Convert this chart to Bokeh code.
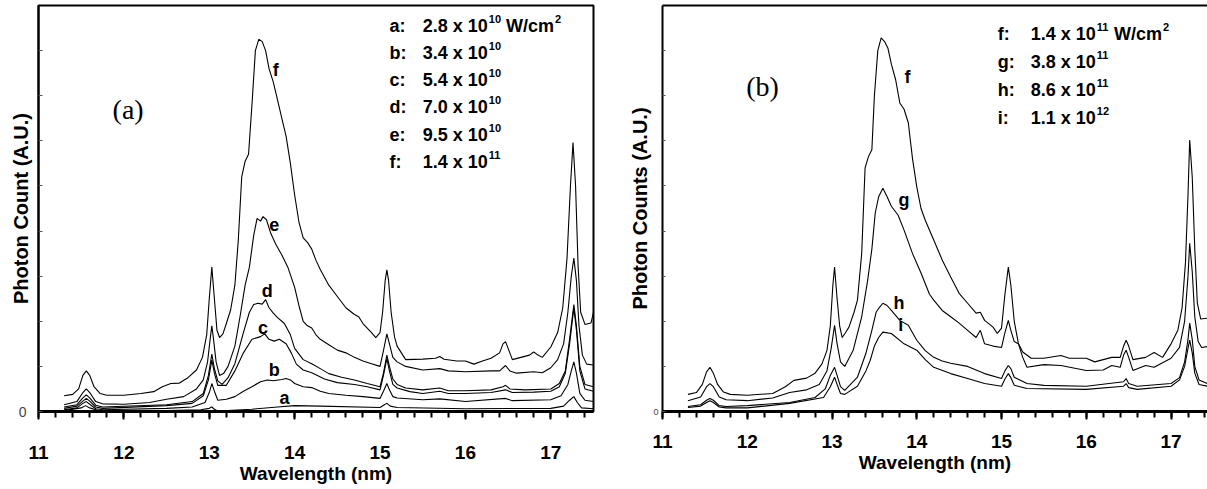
from bokeh.plotting import figure
from bokeh.layouts import row
from bokeh.models import Range1d, LinearAxis, FixedTicker, Label
from bokeh.embed import file_html
from bokeh.resources import INLINE

SANS = "Liberation Sans"
SERIF = "Liberation Serif"

# ---------------- Panel (a): spectra a-f, (wavelength nm, counts A.U.) ----------------
spec_a = [(11.3, 0.02), (11.5, 0.08), (11.55, 0.13), (11.6, 0.08), (11.7, 0.02), (12.5, 0.02),
          (12.9, 0.04), (13.0, 0.07), (13.03, 0.10), (13.06, 0.05), (13.1, 0.01), (13.5, 0.05),
          (13.8, 0.10), (14.0, 0.13), (14.3, 0.12), (15.0, 0.09), (15.05, 0.15), (15.08, 0.18),
          (15.12, 0.12), (15.2, 0.09), (16.0, 0.06), (17.0, 0.07), (17.15, 0.12), (17.22, 0.25),
          (17.27, 0.33), (17.31, 0.20), (17.36, 0.08), (17.5, 0.06)]

spec_b = [(11.3, 0.04), (11.45, 0.08), (11.52, 0.18), (11.56, 0.22), (11.6, 0.16), (11.67, 0.06),
          (11.75, 0.04), (12.5, 0.07), (12.8, 0.10), (12.95, 0.20), (13.0, 0.42), (13.03, 0.62),
          (13.06, 0.45), (13.1, 0.25), (13.2, 0.27), (13.3, 0.33), (13.4, 0.45), (13.5, 0.55),
          (13.6, 0.66), (13.68, 0.70), (13.75, 0.68), (13.85, 0.71), (13.9, 0.73), (13.95, 0.70),
          (14.0, 0.62), (14.1, 0.55), (14.2, 0.53), (14.3, 0.45), (14.4, 0.40), (14.6, 0.36),
          (14.8, 0.33), (15.0, 0.29), (15.04, 0.45), (15.08, 0.62), (15.11, 0.48), (15.15, 0.33),
          (15.2, 0.30), (15.5, 0.26), (15.7, 0.28), (16.0, 0.22), (16.47, 0.29), (16.55, 0.24),
          (17.0, 0.26), (17.12, 0.35), (17.2, 0.60), (17.24, 0.90), (17.27, 1.10), (17.3, 0.85),
          (17.34, 0.40), (17.4, 0.25), (17.5, 0.22)]

spec_c = [(11.3, 0.07), (11.45, 0.12), (11.52, 0.23), (11.56, 0.29), (11.6, 0.23), (11.67, 0.10),
          (11.75, 0.07), (12.5, 0.13), (12.8, 0.18), (12.93, 0.35), (12.99, 0.70), (13.03, 1.14),
          (13.06, 0.85), (13.1, 0.58), (13.2, 0.58), (13.3, 0.90), (13.4, 1.30), (13.5, 1.60),
          (13.6, 1.66), (13.65, 1.72), (13.7, 1.60), (13.76, 1.56), (13.82, 1.60), (13.9, 1.50),
          (13.96, 1.30), (14.02, 1.05), (14.1, 0.92), (14.2, 0.86), (14.35, 0.72), (14.5, 0.64),
          (14.7, 0.60), (14.85, 0.55), (15.0, 0.48), (15.04, 0.80), (15.08, 1.17), (15.11, 0.90),
          (15.15, 0.60), (15.2, 0.52), (15.35, 0.44), (15.5, 0.40), (15.7, 0.45), (15.8, 0.40),
          (16.0, 0.40), (16.3, 0.42), (16.47, 0.48), (16.55, 0.42), (16.8, 0.43), (17.0, 0.45),
          (17.1, 0.55), (17.17, 0.85), (17.22, 1.50), (17.27, 2.30), (17.3, 1.80), (17.34, 0.90),
          (17.4, 0.50), (17.5, 0.45)]

spec_d = [(11.3, 0.10), (11.45, 0.15), (11.52, 0.30), (11.56, 0.37), (11.6, 0.30), (11.67, 0.14),
          (11.75, 0.10), (12.5, 0.15), (12.8, 0.22), (12.93, 0.40), (12.99, 0.80), (13.03, 1.27),
          (13.06, 0.95), (13.1, 0.68), (13.15, 0.60), (13.22, 0.75), (13.3, 1.06), (13.4, 1.75),
          (13.47, 2.20), (13.52, 2.37), (13.57, 2.40), (13.62, 2.38), (13.66, 2.48), (13.7, 2.30),
          (13.75, 2.18), (13.8, 2.08), (13.88, 1.95), (13.95, 1.70), (14.0, 1.40), (14.1, 1.15),
          (14.2, 1.06), (14.3, 0.95), (14.4, 0.84), (14.55, 0.76), (14.7, 0.70), (14.85, 0.62),
          (15.0, 0.55), (15.04, 0.85), (15.08, 1.25), (15.11, 1.00), (15.15, 0.72), (15.2, 0.60),
          (15.3, 0.52), (15.5, 0.48), (15.7, 0.52), (15.8, 0.46), (16.0, 0.46), (16.3, 0.48),
          (16.44, 0.55), (16.47, 0.58), (16.52, 0.50), (16.7, 0.48), (17.0, 0.50), (17.1, 0.62),
          (17.17, 0.90), (17.22, 1.60), (17.27, 2.37), (17.3, 1.90), (17.34, 1.00), (17.4, 0.60),
          (17.5, 0.55)]

spec_e = [(11.3, 0.15), (11.45, 0.22), (11.52, 0.42), (11.56, 0.50), (11.6, 0.42), (11.67, 0.22),
          (11.75, 0.17), (12.0, 0.16), (12.3, 0.20), (12.5, 0.27), (12.7, 0.33), (12.85, 0.50),
          (12.93, 0.70), (12.98, 1.10), (13.01, 1.60), (13.03, 1.90), (13.05, 1.60), (13.08, 1.10),
          (13.12, 0.80), (13.17, 0.85), (13.22, 1.00), (13.3, 1.45), (13.36, 2.10), (13.42, 2.80),
          (13.47, 3.20), (13.52, 3.90), (13.56, 4.28), (13.6, 4.22), (13.63, 4.32), (13.67, 4.25),
          (13.72, 3.95), (13.78, 3.70), (13.85, 3.47), (13.92, 3.20), (14.0, 2.75), (14.05, 2.35),
          (14.1, 2.00), (14.15, 1.90), (14.2, 1.85), (14.25, 1.70), (14.3, 1.60), (14.4, 1.48),
          (14.5, 1.36), (14.6, 1.30), (14.7, 1.20), (14.8, 1.12), (14.9, 1.06), (15.0, 1.00),
          (15.04, 1.35), (15.08, 1.72), (15.11, 1.50), (15.15, 1.20), (15.2, 1.10), (15.3, 1.00),
          (15.5, 0.92), (15.7, 0.95), (15.8, 0.90), (16.0, 0.88), (16.3, 0.90), (16.4, 0.90),
          (16.47, 1.02), (16.52, 0.90), (16.6, 0.85), (16.8, 0.88), (16.9, 0.86), (17.0, 0.97),
          (17.08, 1.15), (17.15, 1.50), (17.2, 2.20), (17.24, 3.00), (17.27, 3.40), (17.3, 2.90),
          (17.33, 1.90), (17.37, 1.25), (17.42, 1.05), (17.5, 1.03)]

spec_f = [(11.3, 0.35), (11.4, 0.38), (11.47, 0.50), (11.52, 0.80), (11.56, 0.90), (11.6, 0.80),
          (11.65, 0.55), (11.72, 0.40), (11.8, 0.36), (12.0, 0.36), (12.2, 0.40), (12.35, 0.44),
          (12.45, 0.55), (12.55, 0.62), (12.65, 0.63), (12.75, 0.75), (12.85, 0.92), (12.92, 1.20),
          (12.97, 1.70), (13.0, 2.50), (13.03, 3.20), (13.06, 2.50), (13.09, 1.80), (13.12, 1.64),
          (13.16, 1.72), (13.2, 1.95), (13.25, 2.25), (13.3, 2.80), (13.34, 3.80), (13.38, 5.20),
          (13.42, 5.55), (13.46, 5.70), (13.5, 6.80), (13.54, 8.00), (13.58, 8.25), (13.62, 8.20),
          (13.66, 8.00), (13.7, 7.60), (13.75, 7.30), (13.8, 6.90), (13.85, 6.50), (13.9, 6.10),
          (13.95, 5.50), (14.0, 4.80), (14.05, 4.20), (14.1, 3.85), (14.15, 3.75), (14.2, 3.60),
          (14.25, 3.35), (14.3, 3.15), (14.4, 2.80), (14.5, 2.55), (14.6, 2.30), (14.7, 2.15),
          (14.75, 2.10), (14.8, 1.95), (14.9, 1.75), (14.95, 1.64), (15.0, 1.75), (15.03, 2.20),
          (15.06, 2.90), (15.08, 3.14), (15.1, 2.90), (15.13, 2.20), (15.17, 1.65), (15.2, 1.45),
          (15.25, 1.30), (15.3, 1.15), (15.5, 1.16), (15.65, 1.18), (15.7, 1.22), (15.75, 1.16),
          (15.9, 1.12), (16.0, 1.12), (16.1, 1.05), (16.2, 1.12), (16.3, 1.18), (16.4, 1.30),
          (16.44, 1.50), (16.47, 1.55), (16.5, 1.40), (16.55, 1.15), (16.65, 1.20), (16.75, 1.25),
          (16.8, 1.32), (16.85, 1.25), (16.9, 1.20), (17.0, 1.43), (17.08, 1.75), (17.14, 2.30),
          (17.19, 3.40), (17.23, 5.00), (17.26, 5.96), (17.29, 5.00), (17.32, 3.20), (17.35, 2.20),
          (17.4, 1.93), (17.47, 1.96), (17.5, 2.20)]

# ---------------- Panel (b): spectra f-i ----------------
spec_fb = [(11.3, 0.38), (11.4, 0.42), (11.47, 0.60), (11.52, 0.88), (11.56, 0.98), (11.6, 0.85),
           (11.65, 0.60), (11.72, 0.43), (11.8, 0.38), (12.0, 0.36), (12.3, 0.40), (12.45, 0.55),
           (12.55, 0.69), (12.7, 0.74), (12.8, 0.85), (12.88, 1.05), (12.94, 1.35), (12.98, 1.90),
           (13.01, 2.80), (13.03, 3.20), (13.06, 2.50), (13.09, 1.90), (13.12, 1.64), (13.16, 1.75),
           (13.2, 1.87), (13.26, 2.20), (13.3, 2.47), (13.35, 3.50), (13.39, 5.40), (13.43, 5.65),
           (13.47, 5.80), (13.5, 7.00), (13.54, 8.00), (13.58, 8.28), (13.62, 8.20), (13.66, 8.05),
           (13.7, 7.70), (13.75, 7.36), (13.8, 6.84), (13.85, 6.70), (13.9, 6.40), (13.95, 5.60),
           (14.0, 4.98), (14.05, 4.50), (14.1, 4.24), (14.2, 3.80), (14.3, 3.36), (14.4, 2.98),
           (14.5, 2.62), (14.6, 2.40), (14.7, 2.18), (14.75, 2.20), (14.8, 2.02), (14.9, 1.87),
           (14.95, 1.73), (15.0, 1.85), (15.04, 2.60), (15.08, 3.20), (15.11, 2.80), (15.15, 2.00),
           (15.2, 1.50), (15.25, 1.32), (15.35, 1.18), (15.5, 1.18), (15.7, 1.24), (15.8, 1.18),
           (16.0, 1.18), (16.1, 1.10), (16.3, 1.20), (16.4, 1.20), (16.44, 1.45), (16.47, 1.58),
           (16.5, 1.45), (16.55, 1.15), (16.7, 1.20), (16.8, 1.31), (16.9, 1.20), (17.0, 1.50),
           (17.08, 1.80), (17.13, 2.30), (17.17, 3.30), (17.2, 4.80), (17.22, 6.02), (17.25, 5.20),
           (17.28, 3.60), (17.31, 2.40), (17.35, 2.05), (17.43, 2.07)]

spec_g = [(11.3, 0.24), (11.45, 0.32), (11.52, 0.55), (11.56, 0.62), (11.6, 0.55), (11.67, 0.32),
          (11.75, 0.26), (12.0, 0.24), (12.3, 0.30), (12.5, 0.42), (12.7, 0.48), (12.85, 0.60),
          (12.94, 0.90), (12.99, 1.40), (13.03, 1.91), (13.06, 1.50), (13.1, 1.10), (13.15, 1.00),
          (13.25, 1.36), (13.35, 2.10), (13.42, 2.90), (13.47, 3.60), (13.51, 4.40), (13.55, 4.76),
          (13.6, 4.95), (13.65, 4.76), (13.7, 4.55), (13.78, 4.35), (13.85, 4.02), (13.95, 3.50),
          (14.05, 3.07), (14.15, 2.60), (14.2, 2.47), (14.3, 2.24), (14.4, 2.10), (14.5, 1.96),
          (14.6, 1.80), (14.7, 1.64), (14.75, 1.80), (14.8, 1.50), (14.9, 1.45), (15.0, 1.42),
          (15.04, 1.75), (15.08, 2.02), (15.11, 1.80), (15.15, 1.55), (15.2, 1.50), (15.25, 1.20),
          (15.3, 0.98), (15.5, 1.04), (15.7, 1.02), (16.0, 0.91), (16.2, 0.92), (16.3, 1.02),
          (16.4, 0.98), (16.44, 1.25), (16.47, 1.36), (16.5, 1.20), (16.55, 0.91), (16.7, 1.02),
          (16.8, 0.98), (17.0, 1.18), (17.1, 1.42), (17.16, 2.00), (17.2, 3.00), (17.22, 3.73),
          (17.25, 3.10), (17.28, 2.10), (17.32, 1.55), (17.36, 1.42), (17.43, 1.44)]

spec_h = [(11.3, 0.11), (11.45, 0.15), (11.52, 0.25), (11.56, 0.29), (11.6, 0.25), (11.67, 0.13),
          (11.75, 0.11), (12.0, 0.13), (12.5, 0.20), (12.8, 0.31), (12.92, 0.50), (12.98, 0.80),
          (13.03, 0.98), (13.06, 0.80), (13.1, 0.55), (13.15, 0.47), (13.3, 0.76), (13.4, 1.29),
          (13.47, 1.80), (13.52, 2.20), (13.56, 2.31), (13.6, 2.40), (13.65, 2.35), (13.7, 2.24),
          (13.8, 2.02), (13.9, 1.91), (14.0, 1.58), (14.1, 1.35), (14.2, 1.20), (14.3, 1.12),
          (14.4, 1.07), (14.6, 1.00), (14.8, 0.84), (15.0, 0.73), (15.04, 0.90), (15.08, 1.02),
          (15.11, 0.95), (15.15, 0.76), (15.3, 0.62), (15.5, 0.58), (16.0, 0.56), (16.44, 0.66),
          (16.47, 0.73), (16.5, 0.62), (16.6, 0.56), (17.0, 0.62), (17.1, 0.75), (17.16, 1.10),
          (17.2, 1.60), (17.22, 1.96), (17.25, 1.60), (17.28, 1.00), (17.33, 0.70), (17.43, 0.62)]

spec_i = [(11.3, 0.09), (11.45, 0.12), (11.52, 0.20), (11.56, 0.24), (11.6, 0.20), (11.67, 0.10),
          (11.75, 0.08), (12.0, 0.08), (12.5, 0.18), (12.9, 0.31), (12.98, 0.55), (13.03, 0.76),
          (13.06, 0.60), (13.1, 0.40), (13.15, 0.38), (13.3, 0.56), (13.4, 0.90), (13.45, 1.13),
          (13.5, 1.45), (13.55, 1.64), (13.6, 1.76), (13.7, 1.73), (13.85, 1.50), (14.0, 1.36),
          (14.1, 1.15), (14.2, 0.98), (14.4, 0.84), (14.6, 0.73), (14.8, 0.62), (15.0, 0.56),
          (15.04, 0.72), (15.08, 0.84), (15.11, 0.75), (15.15, 0.58), (15.3, 0.51), (16.0, 0.49),
          (16.44, 0.56), (16.47, 0.62), (16.5, 0.53), (16.6, 0.49), (17.0, 0.56), (17.1, 0.70),
          (17.16, 1.00), (17.2, 1.40), (17.22, 1.58), (17.25, 1.30), (17.28, 0.85), (17.33, 0.60),
          (17.43, 0.56)]

# legend entries: intensity = mantissa x 10^exponent (W/cm^2)
left_keys = ["a:", "b:", "c:", "d:", "e:", "f:"]
left_mantissa = ["2.8", "3.4", "5.4", "7.0", "9.5", "1.4"]
left_exponent = ["10", "10", "10", "10", "10", "11"]
right_keys = ["f:", "g:", "h:", "i:"]
right_mantissa = ["1.4", "3.8", "8.6", "1.1"]
right_exponent = ["11", "11", "11", "12"]

x_ticks = [11, 12, 13, 14, 15, 16, 17]
x_minor = [round(11 + 0.2 * k, 1) for k in range(33)]
y_ticks = [0, 1, 2, 3, 4, 5, 6, 7, 8]
y_tick_labels = ["0", "", "", "", "", "", "", "", ""]

# advance widths of Arial / Liberation Sans Bold (per 1000 em)
BOLD_W = {".": 278, " ": 278, "x": 556, "W": 944, "/": 278, "c": 556, "m": 889, ":": 333}


def text_w(s, size):
    return sum(BOLD_W.get(ch, 556) for ch in s) * size / 1000.0


def make_panel(width, b_left, b_right, b_bottom, x_end, zero_size, tick_in):
    p = figure(width=width, height=489, x_range=Range1d(11, x_end), y_range=Range1d(0, 9),
               output_backend="svg", toolbar_location=None,
               min_border_left=b_left, min_border_right=b_right,
               min_border_top=5, min_border_bottom=b_bottom)
    p.grid.visible = False
    xa = p.xaxis[0]
    xa.ticker = FixedTicker(ticks=x_ticks, minor_ticks=x_minor)
    xa.axis_line_width = 3
    xa.major_tick_in = 0
    xa.major_tick_out = 8
    xa.minor_tick_in = 0
    xa.minor_tick_out = 6
    xa.major_tick_line_width = 2
    xa.minor_tick_line_width = 2
    xa.major_label_text_font = SANS
    xa.major_label_text_font_style = "bold"
    xa.major_label_text_font_size = "19px"
    xa.major_label_text_color = "black"
    xa.axis_label = "Wavelength (nm)"
    xa.axis_label_text_font = SANS
    xa.axis_label_text_font_style = "bold"
    xa.axis_label_text_font_size = "19px"
    xa.axis_label_text_color = "black"

    ya = p.yaxis[0]
    ya.ticker = FixedTicker(ticks=y_ticks, minor_ticks=[])
    ya.major_label_overrides = {t: lab for t, lab in zip(y_ticks, y_tick_labels)}
    ya.axis_line_width = 2
    ya.major_tick_in = tick_in
    ya.major_tick_out = 0
    ya.major_tick_line_color = "#555555"
    ya.major_tick_line_width = 1
    ya.minor_tick_line_color = None
    ya.major_label_text_font = SANS
    ya.major_label_text_font_size = zero_size
    ya.major_label_text_color = "#444444"
    ya.axis_label_text_font = SANS
    ya.axis_label_text_font_style = "bold"
    ya.axis_label_text_font_size = "20px"
    ya.axis_label_text_color = "black"
    return p


def add_legend(p, keys, mants, exps, x_key, x_val, ys, size=18, sup=11):
    common = dict(text_font=SANS, text_font_style="bold", text_color="black",
                  text_baseline="middle", text_align="left")
    for k, (key, m, e, y) in enumerate(zip(keys, mants, exps, ys)):
        p.add_layout(Label(x=x_key, y=y, text=key, text_font_size=f"{size}px", **common))
        base = f"{m} x 10"
        p.add_layout(Label(x=x_val, y=y, text=base, text_font_size=f"{size}px", **common))
        off = text_w(base, size) + 1
        p.add_layout(Label(x=x_val, y=y, x_offset=off, y_offset=7, text=e,
                           text_font_size=f"{sup}px", **common))
        if k == 0:
            off += text_w(e, sup) + text_w(" ", size)
            p.add_layout(Label(x=x_val, y=y, x_offset=off, text="W/cm",
                               text_font_size=f"{size}px", **common))
            off += text_w("W/cm", size) + 1
            p.add_layout(Label(x=x_val, y=y, x_offset=off, y_offset=7, text="2",
                               text_font_size=f"{sup}px", **common))


def curve_label(p, x, y, t):
    p.add_layout(Label(x=x, y=y, text=t, text_font=SANS, text_font_style="bold",
                       text_font_size="18px", text_align="center", text_baseline="middle",
                       text_color="black"))


def draw(p, spec):
    wl = [w for w, _ in spec]
    cnt = [c for _, c in spec]
    p.line(wl, cnt, line_color="black", line_width=1.1)


# ---- left panel ----
p1 = make_panel(617, 38, 24, 74, 17.5, "14px", 4)
p1.xaxis[0].major_label_standoff = 26
p1.xaxis[0].axis_label_standoff = 1
p1.yaxis[0].major_label_standoff = 12
p1.yaxis[0].axis_label = "Photon Count (A.U.)"
p1.yaxis[0].axis_label_standoff = -16
p1.outline_line_color = "black"
p1.outline_line_width = 2
p1.outline_line_alpha = 1.0

for spec in [spec_a, spec_b, spec_c, spec_d, spec_e, spec_f]:
    draw(p1, spec)

for x, y, t in [(13.78, 7.57, "f"), (13.76, 4.14, "e"), (13.68, 2.67, "d"),
                (13.63, 1.86, "c"), (13.76, 0.92, "b"), (13.88, 0.29, "a")]:
    curve_label(p1, x, y, t)

add_legend(p1, left_keys, left_mantissa, left_exponent, 15.11, 15.50,
           [8.55, 7.95, 7.35, 6.74, 6.13, 5.53])

p1.add_layout(Label(x=12.05, y=6.7, text="(a)", text_font=SERIF, text_font_size="28px",
                    text_align="center", text_baseline="middle", text_color="black"))

# ---- right panel ----
p2 = make_panel(590, 45, 0, 78, 17.43, "9px", 3)
p2.xaxis[0].major_label_standoff = 15
p2.xaxis[0].axis_label_standoff = 1
p2.yaxis[0].major_label_standoff = 4
p2.yaxis[0].axis_label = "Photon Counts (A.U.)"
p2.yaxis[0].axis_label_standoff = -1
p2.outline_line_color = None
top = LinearAxis(ticker=FixedTicker(ticks=[]), axis_line_width=2,
                 major_tick_in=0, major_tick_out=0, minor_tick_in=0, minor_tick_out=0,
                 major_label_text_font_size="0px", major_label_standoff=0)
p2.add_layout(top, "above")

for spec in [spec_fb, spec_g, spec_h, spec_i]:
    draw(p2, spec)

for x, y, t in [(13.89, 7.42, "f"), (13.85, 4.69, "g"), (13.79, 2.4, "h"), (13.81, 1.91, "i")]:
    curve_label(p2, x, y, t)

add_legend(p2, right_keys, right_mantissa, right_exponent, 14.955, 15.345,
           [8.36, 7.74, 7.12, 6.51])

p2.add_layout(Label(x=12.18, y=7.2, text="(b)", text_font=SERIF, text_font_size="28px",
                    text_align="center", text_baseline="middle", text_color="black"))

layout = row(p1, p2)
open("out.html", "w").write(file_html(layout, INLINE))
